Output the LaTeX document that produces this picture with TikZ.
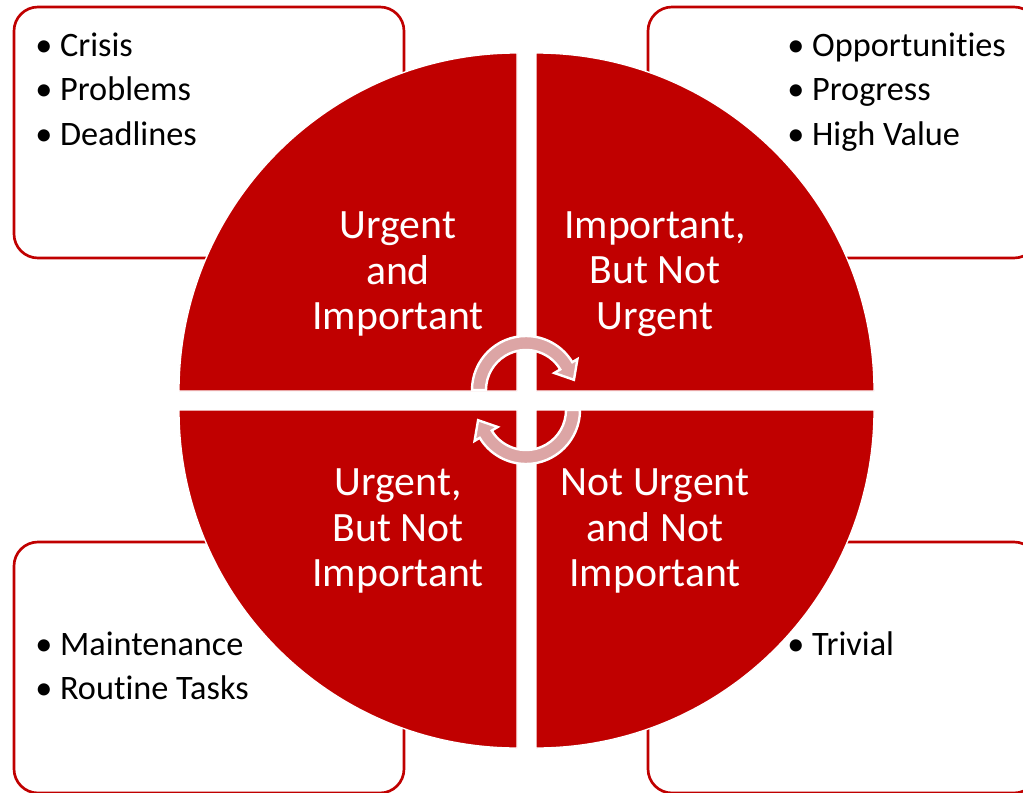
\documentclass[tikz,border=0pt]{standalone}
\usepackage{fontspec}
\setmainfont[Ligatures=NoCommon]{Carlito}
\usepackage{tikz}
\definecolor{quadred}{RGB}{192,0,0}
\definecolor{arrowpink}{RGB}{220,165,165}

\begin{document}
\begin{tikzpicture}[x=0.75pt, y=-0.75pt,
    itembox/.style={draw=quadred, line width=2pt, fill=white, rounded corners=18pt},
    quadrant/.style={fill=quadred, draw=white, line width=1pt},
    quadtext/.style={text=white, align=center, inner sep=0pt, font=\fontsize{31.3}{34.1}\selectfont},
    item/.style={anchor=base west, inner sep=0pt, font=\fontsize{25.7}{30}\selectfont},
    turn/.style={fill=arrowpink, draw=white, line width=1.8pt, line join=miter}]
    \useasboundingbox (0,0) rectangle (1023,792);
    \clip (0,0) rectangle (1023,792);
    % Boxes behind the circle
    \draw[itembox] (14,7) rectangle (404,258);
    \draw[itembox] (648,7) rectangle (1038,258);
    \draw[itembox] (14,542) rectangle (404,793);
    \draw[itembox] (648,542) rectangle (1038,793);
    % Quadrants
    \foreach \cx/\cy/\a in {517/391/180, 536/391/270, 536/410/0, 517/410/90}
        \filldraw[quadrant] (\cx,\cy) -- ++(\a:338) arc[start angle=\a, delta angle=90, radius=338] -- cycle;
    % Quadrant labels
    \node[quadtext] (ui) at (398,274) {Urgent\\and\\Important};
    \node[quadtext] (inu) at (655,274) {Important,\\But Not\\Urgent};
    \node[quadtext] (uni) at (398,531) {Urgent,\\But Not\\Important};
    \node[quadtext] (nuni) at (655,531) {Not Urgent\\and Not\\Important};
    % Lists
    \node[item] (crisis) at (35,56) {• Crisis};
    \node[item] (problems) at (35,100.5) {• Problems};
    \node[item] (deadlines) at (35,145) {• Deadlines};
    \node[item] (opportunities) at (787,56) {• Opportunities};
    \node[item] (progress) at (787,100.5) {• Progress};
    \node[item] (highvalue) at (787,145) {• High Value};
    \node[item] (maintenance) at (35,655) {• Maintenance};
    \node[item] (routine) at (35,699) {• Routine Tasks};
    \node[item] (trivial) at (787,655) {• Trivial};
    % Arrows
    \begin{scope}[shift={(526,390)}]
        \filldraw[turn] (180:54) arc[start angle=180, end angle=329, radius=54] -- (329:60) -- (348:49) -- (329:33) -- (329:40) arc[start angle=329, end angle=180, radius=40] -- cycle;
    \end{scope}
    \begin{scope}[shift={(526,410)}]
        \filldraw[turn] (0:54) arc[start angle=0, end angle=149, radius=54] -- (149:60) -- (168:49) -- (149:33) -- (149:40) arc[start angle=149, end angle=0, radius=40] -- cycle;
    \end{scope}
\end{tikzpicture}
\end{document}
